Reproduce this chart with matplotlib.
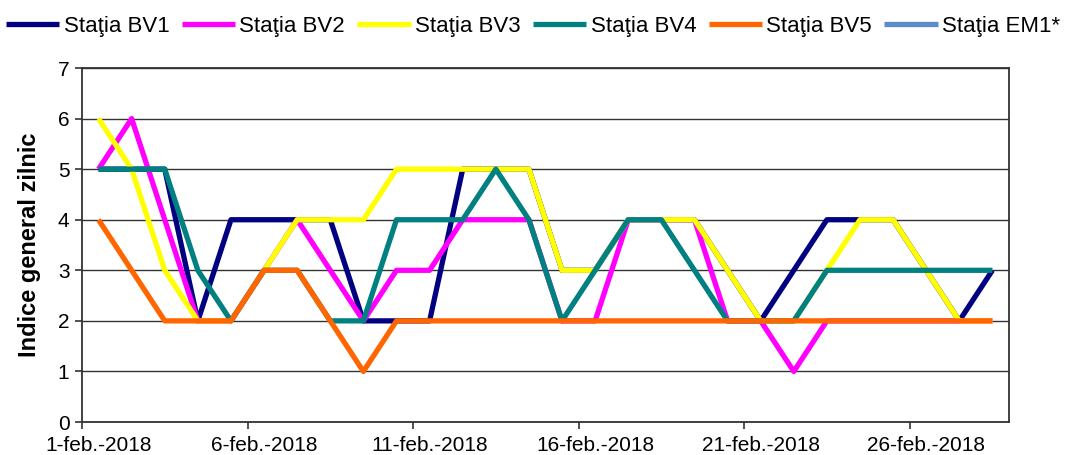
import numpy as np
import matplotlib as mpl

mpl.use("Agg")
from matplotlib import pyplot as plt
from matplotlib.ticker import FixedLocator, NullFormatter, FixedFormatter

plt.rcParams['font.family'] = ['Liberation Sans', 'DejaVu Sans']

# zile (1..28 februarie 2018)
zile = list(range(1, 29))
etichete_x = ["1-feb.-2018", "6-feb.-2018", "11-feb.-2018",
              "16-feb.-2018", "21-feb.-2018", "26-feb.-2018"]

bv1 = [5, 5, 5, 2, 4, 4, 4, 4, 2, 2, 2, 5, 5, 5, 3, 3, 4, 4, 4, 3, 2, 3, 4, 4, 4, 3, 2, 3]
bv2 = [5, 6, 4, 2, 2, 3, 4, 3, 2, 3, 3, 4, 4, 4, 2, 2, 4, 4, 4, 2, 2, 1, 2, 2, 2, 2, 2, 2]
bv3 = [6, 5, 3, 2, 2, 3, 4, 4, 4, 5, 5, 5, 5, 5, 3, 3, 4, 4, 4, 3, 2, 2, 3, 4, 4, 3, 2, 2]
bv4 = [5, 5, 5, 3, 2, 3, 3, 2, 2, 4, 4, 4, 5, 4, 2, 3, 4, 4, 3, 2, 2, 2, 3, 3, 3, 3, 3, 3]
bv5 = [4, 3, 2, 2, 2, 3, 3, 2, 1, 2, 2, 2, 2, 2, 2, 2, 2, 2, 2, 2, 2, 2, 2, 2, 2, 2, 2, 2]
em1 = []  # fara date vizibile

statii = ["Staţia BV1", "Staţia BV2", "Staţia BV3", "Staţia BV4", "Staţia BV5", "Staţia EM1*"]
culori = ["#000080", "#FF00FF", "#FFFF00", "#008080", "#FF6600", "#5B8CCB"]
serii = [bv1, bv2, bv3, bv4, bv5, em1]

f = plt.figure(figsize=(10.66, 4.55), dpi=100)
ax = f.add_axes([0.0769, 0.0725, 0.8696, 0.778])

# axa de categorii: punctul zilei i e in mijlocul intervalului [i-1, i]
for nume, cul, val in zip(statii, culori, serii):
    x = np.array(zile[:len(val)]) - 0.5
    ax.plot(x, val, color=cul, lw=3.8, label=nume, solid_capstyle='butt')

ax.set_xlim(0, 28)
ax.set_ylim(0, 7)
ax.set_yticks(range(0, 8))
ax.yaxis.grid(True, color='#333333', lw=1.0)
ax.set_axisbelow(True)

ax.xaxis.set_major_locator(FixedLocator([0, 5, 10, 15, 20, 25]))
ax.xaxis.set_major_formatter(NullFormatter())
ax.xaxis.set_minor_locator(FixedLocator([0.5, 5.5, 10.5, 15.5, 20.5, 25.5]))
ax.xaxis.set_minor_formatter(FixedFormatter(etichete_x))
ax.tick_params(axis='x', which='major', direction='out', length=5, width=1.2, color='#333333')
ax.tick_params(axis='x', which='minor', length=0, labelsize=15, pad=10)
ax.tick_params(axis='y', direction='out', length=5, width=1.2, color='#333333', labelsize=15, pad=4)

for s in ax.spines.values():
    s.set_color('#333333')
    s.set_linewidth(1.3)

ax.set_ylabel("Indice general zilnic", fontsize=17, fontweight='bold', labelpad=12)

f.legend(loc='upper center', bbox_to_anchor=(0.5, 1.0), ncol=6, frameon=False,
         fontsize=16, handlelength=2.4, handletextpad=0.2, columnspacing=0.55,
         borderaxespad=0.3)

f.savefig("out.png", dpi=100)
